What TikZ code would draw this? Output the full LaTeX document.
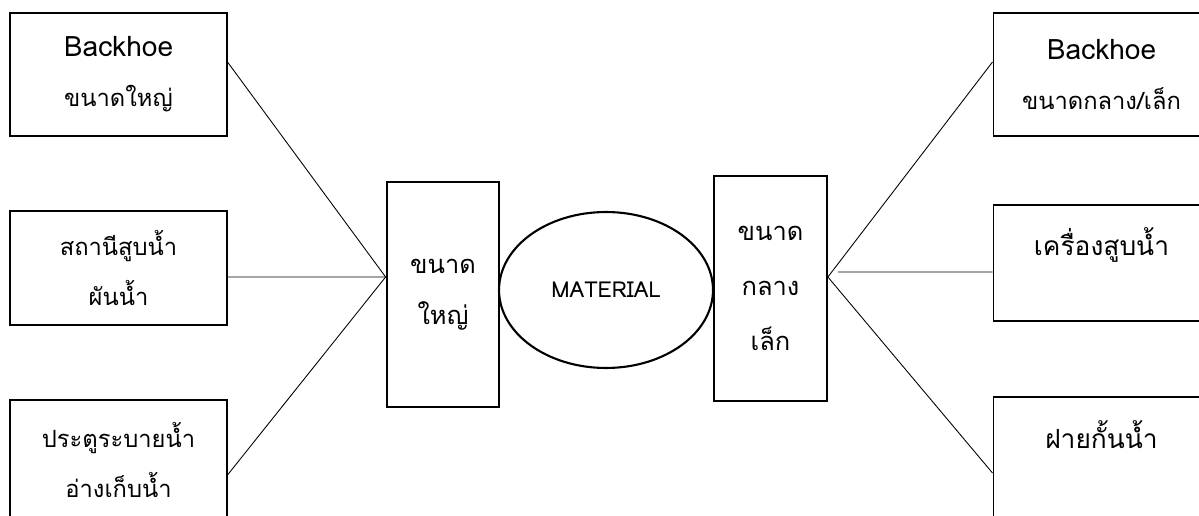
\documentclass[tikz,border=0pt]{standalone}
\usepackage{fontspec}
\setmainfont[Script=Thai]{Loma}
\usepackage{tikz}
\usetikzlibrary{positioning,calc,shapes.geometric}

\newcommand{\engword}[1]{{\fontsize{16}{28.5}\selectfont #1}}

\tikzset{
  itembox/.style={draw, line width=0.6pt, minimum width=4.34cm,
    align=center, font=\fontsize{13.5}{28.5}\selectfont},
  itemtext/.style={font=\fontsize{15}{28.5}\selectfont},
  sizebox/.style={draw, line width=1.3pt, minimum width=2.25cm,
    minimum height=4.5cm, align=center, font=\fontsize{14.5}{29}\selectfont},
  link/.style={draw, line width=0.5pt}
}

\begin{document}
\begin{tikzpicture}[x=0.02cm, y=-0.02cm]
  \useasboundingbox (0,0) rectangle (1199,516);

  % left side
  \node[itembox, minimum height=2.46cm] (bigbackhoe) at (118.5,74.5)
    {\engword{Backhoe}\\ขนาดใหญ่};
  \node[itembox, minimum height=2.28cm] (station) at (118.5,268)
    {สถานีสูบน้ำ\\ผันน้ำ};
  \node[itembox, minimum height=2.4cm] (gate) at (118.5,460)
    {ประตูระบายน้ำ\\อ่างเก็บน้ำ};

  % right side
  \node[itembox, minimum height=2.46cm] (smallbackhoe) at (1101.5,74.5)
    {\engword{Backhoe}\\ขนาดกลาง/เล็ก};
  \node[itembox, minimum height=2.32cm] (pump) at (1101.5,263) {};
  \node[itembox, minimum height=2.46cm] (weir) at (1101.5,458.5) {};
  \node[itemtext, below=0.8cm of pump.north, anchor=center] (pumptext)
    {เครื่องสูบน้ำ};
  \node[itemtext, below=0.76cm of weir.north, anchor=center] (weirtext)
    {ฝายกั้นน้ำ};

  % centre
  \node[sizebox] (big) at (443,294.5) {ขนาด\\ใหญ่};
  \node[draw, ellipse, line width=1.2pt, minimum width=4.28cm,
    minimum height=3.12cm, inner sep=0pt,
    font=\fontsize{12.5}{16}\selectfont] (material) at (606,290) {MATERIAL};
  \node[sizebox, font=\fontsize{14.5}{31.5}\selectfont] (small) at (770.5,288.5)
    {ขนาด\\กลาง\\เล็ก};

  \coordinate (hubL) at ([yshift=0.35cm]big.west);
  \coordinate (hubR) at ([yshift=0.23cm]small.east);

  \path[link] ([yshift=0.25cm]bigbackhoe.east) -- (hubL);
  \path[link] ([yshift=-0.18cm]station.east) -- (hubL);
  \path[link] ([yshift=-0.3cm]gate.east) -- (hubL);
  \path[link] ([yshift=0.25cm]smallbackhoe.west) -- (hubR);
  \path[link] ([yshift=-0.18cm]pump.west) -- ([xshift=0.2cm, yshift=0.1cm]hubR);
  \path[link] ([yshift=-0.29cm]weir.west) -- (hubR);
\end{tikzpicture}
\end{document}
